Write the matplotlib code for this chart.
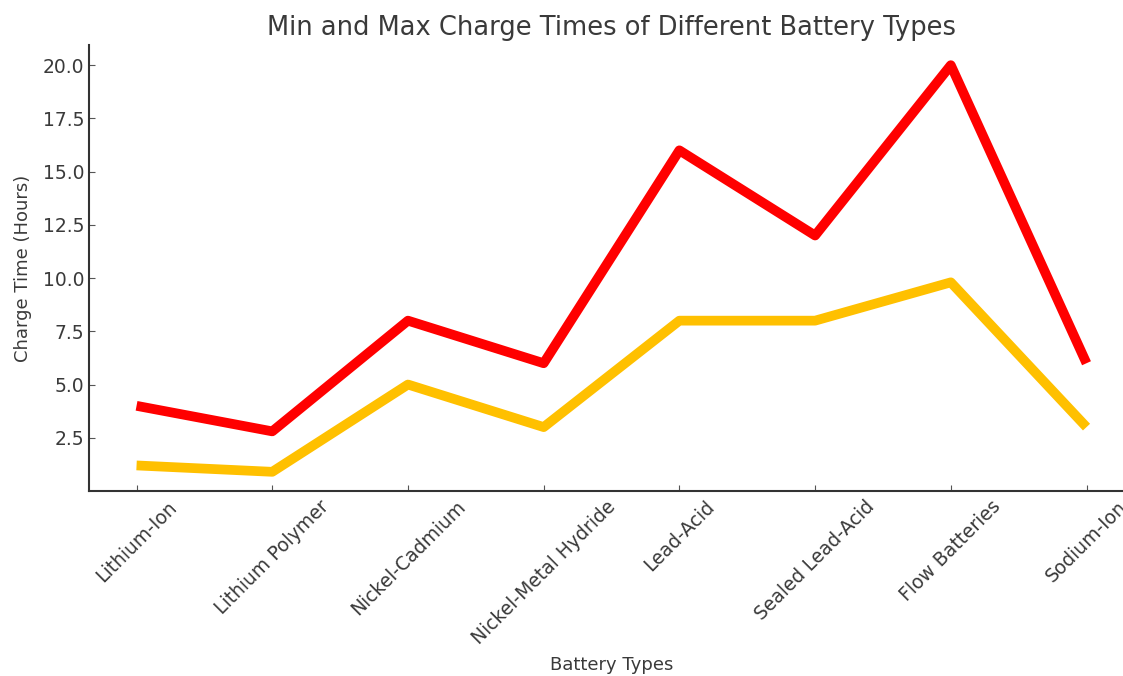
import numpy as np
import matplotlib.pyplot as plt

battery_types = ["Lithium-Ion", "Lithium Polymer", "Nickel-Cadmium", "Nickel-Metal Hydride",
                 "Lead-Acid", "Sealed Lead-Acid", "Flow Batteries", "Sodium-Ion"]
max_hours = [4, 2.8, 8, 6, 16, 12, 20, 6]
min_hours = [1.2, 0.9, 5, 3, 8, 8, 9.8, 3]
y_ticks = [2.5, 5.0, 7.5, 10.0, 12.5, 15.0, 17.5, 20.0]

text_color = "#3a3a3a"

fig = plt.figure(figsize=(11.23, 6.76), dpi=100)
# the original image is cropped on the right, so the axes runs past the edge
ax = fig.add_axes([0.0793, 0.2737, 0.9305, 0.6598])

x = np.arange(len(battery_types))
ax.plot(x, max_hours, color="#ff0000", linewidth=7, solid_capstyle="butt")
ax.plot(x, min_hours, color="#ffc000", linewidth=7, solid_capstyle="butt")

ax.set_xlim(-0.35, len(battery_types) - 1 + 0.35)
ax.set_ylim(0, 20.95)
ax.set_xticks(x)
ax.set_xticklabels(battery_types, rotation=45, fontsize=13.5, color=text_color)
ax.set_yticks(y_ticks)
ax.set_yticklabels([f"{v:.1f}" for v in y_ticks], fontsize=13.5, color=text_color)
ax.tick_params(direction="in", length=4, color="#555555")
ax.tick_params(axis="x", pad=4.5)

ax.set_title("Min and Max Charge Times of Different Battery Types",
             fontsize=18.5, color=text_color, pad=7)
ax.set_xlabel("Battery Types", fontsize=13, color=text_color)
ax.xaxis.set_label_coords(0.5, -0.37)
ax.set_ylabel("Charge Time (Hours)", fontsize=13, color=text_color, labelpad=8)

for side in ["top", "right"]:
    ax.spines[side].set_visible(False)
for side in ["left", "bottom"]:
    ax.spines[side].set_color("#333333")
    ax.spines[side].set_linewidth(1.5)

fig.savefig("out.png", dpi=100)
